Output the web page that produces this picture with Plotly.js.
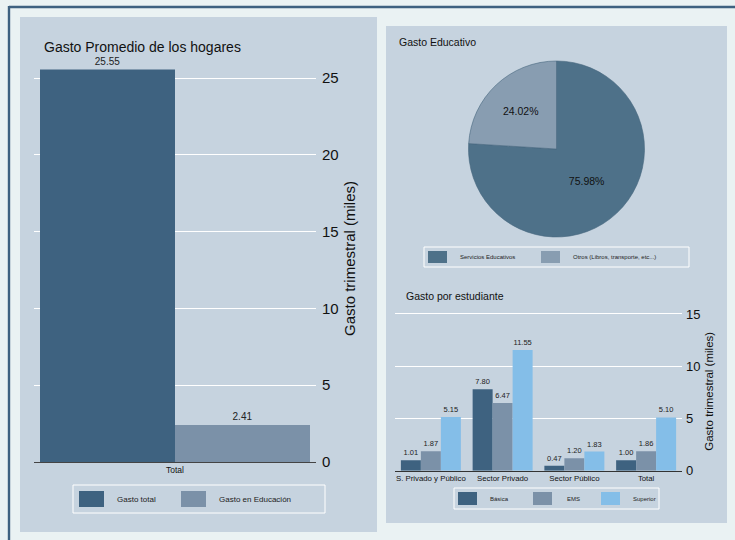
<!DOCTYPE html>
<html>
<head>
<meta charset="utf-8">
<script src="https://cdn.plot.ly/plotly-3.0.1.min.js"></script>
<style>html,body{margin:0;padding:0;background:#EAF2F3;}#chart{width:735px;height:540px;}</style>
</head>
<body>
<div id="chart"></div>
<script>
// ---- Data ----
const catHogar = ['Total'];
const seriesHogar = ['Gasto total', 'Gasto en Educación'];
const valHogar = [25.55, 2.41];

const pieLabels = ['Servicios Educativos', 'Otros (Libros, transporte, etc...)'];
const pieValues = [75.98, 24.02];

const catEst = ['S. Privado y Público', 'Sector Privado', 'Sector Público', 'Total'];
const seriesEst = ['Básica', 'EMS', 'Superior'];
const basica = [1.01, 7.80, 0.47, 1.00];
const ems = [1.87, 6.47, 1.20, 1.86];
const superior = [5.15, 11.55, 1.83, 5.10];

const titles = ['Gasto Promedio de los hogares', 'Gasto Educativo', 'Gasto por estudiante'];
const yTitle = 'Gasto trimestral (miles)';

// ---- Styles ----
const W = 735, H = 540;
const px = x => x / W;
const py = y => 1 - y / H;
const FONT = 'Liberation Sans, Arial, sans-serif';
const cDark = '#3E6280', cMid = '#7B91A8', cLight = '#84BEE8';
const pieDark = '#4E7189', pieLight = '#889DB1';
const panel = '#C6D3DF', outer = '#EAF2F3', border = '#3E6180';
const hogarColors = [cDark, cMid];
const estColors = [cDark, cMid, cLight];
const estVals = [basica, ems, superior];
const leftBarW = 135 / 282;

const traces = [];
seriesHogar.forEach((s, i) => {
  traces.push({
    type: 'bar', name: s, x: catHogar, y: [valHogar[i]],
    xaxis: 'x', yaxis: 'y',
    width: leftBarW, offset: (i - 1) * leftBarW,
    marker: {color: hogarColors[i], line: {width: 0}},
    texttemplate: '%{y:.2f}', textposition: 'outside',
    textfont: {size: 10, color: '#222', family: FONT},
    cliponaxis: false, showlegend: false, hoverinfo: 'skip'
  });
});
traces.push({
  type: 'pie', labels: pieLabels, values: pieValues, sort: false,
  direction: 'clockwise', rotation: 0,
  domain: {x: [px(468.5), px(644.5)], y: [py(237), py(61)]},
  marker: {colors: [pieDark, pieLight], line: {color: '#46667E', width: 0.6}},
  texttemplate: '%{percent:.2%}', textposition: 'inside', insidetextorientation: 'horizontal',
  textfont: {size: 10.5, color: '#111', family: FONT},
  showlegend: false, hoverinfo: 'skip'
});
seriesEst.forEach((s, i) => {
  traces.push({
    type: 'bar', name: s, x: catEst, y: estVals[i],
    xaxis: 'x2', yaxis: 'y2',
    marker: {color: estColors[i], line: {width: 0}},
    texttemplate: '%{y:.2f}', textposition: 'outside',
    textfont: {size: 7.5, color: '#222', family: FONT},
    cliponaxis: false, showlegend: false, hoverinfo: 'skip'
  });
});

const P = {xref: 'paper', yref: 'paper'};
const shapes = [
  // outer border
  Object.assign({type: 'line', x0: px(9), x1: px(740), y0: py(7), y1: py(7), line: {color: border, width: 2.4}}, P),
  Object.assign({type: 'line', x0: px(9), x1: px(9), y0: py(6), y1: py(545), line: {color: border, width: 2.4}}, P),
  // panels
  Object.assign({type: 'rect', x0: px(20), x1: px(377), y0: py(532), y1: py(17), fillcolor: panel, line: {width: 0}, layer: 'below'}, P),
  Object.assign({type: 'rect', x0: px(386), x1: px(727), y0: py(523), y1: py(26), fillcolor: panel, line: {width: 0}, layer: 'below'}, P)
];
const annotations = [];

function legend(box, names, colors, swX, swW, swY0, swY1, txX, size) {
  shapes.push(Object.assign({type: 'rect', x0: px(box[0]), x1: px(box[2]), y0: py(box[3]), y1: py(box[1]),
    line: {color: '#FFFFFF', width: 1}, fillcolor: 'rgba(0,0,0,0)'}, P));
  names.forEach((n, i) => {
    shapes.push(Object.assign({type: 'rect', x0: px(swX[i]), x1: px(swX[i] + swW), y0: py(swY1), y1: py(swY0),
      fillcolor: colors[i], line: {width: 0}}, P));
    annotations.push({text: n, x: px(txX[i]), y: py((swY0 + swY1) / 2), xref: 'paper', yref: 'paper',
      xanchor: 'left', yanchor: 'middle', showarrow: false, font: {size: size, color: '#222', family: FONT}});
  });
}
legend([73, 485, 325, 513], seriesHogar, hogarColors, [79, 181], 25, 491, 507, [115, 217], 8);
legend([424, 247, 689, 267], pieLabels, [pieDark, pieLight], [428, 541], 19, 251, 263, [458, 571], 6);
legend([454, 488, 659, 509], seriesEst, estColors, [458, 533, 601], 19, 492, 505, [488, 565, 631], 6);

const titlePos = [[42, 47, 14], [397, 42, 10.5], [404, 296, 10.5]];
titles.forEach((t, i) => {
  annotations.push({text: t, x: px(titlePos[i][0]), y: py(titlePos[i][1]), xref: 'paper', yref: 'paper',
    xanchor: 'left', yanchor: 'middle', showarrow: false, font: {size: titlePos[i][2], color: '#111', family: FONT}});
});

const layout = {
  width: W, height: H,
  margin: {l: 0, r: 0, t: 0, b: 0},
  paper_bgcolor: outer, plot_bgcolor: 'rgba(0,0,0,0)',
  font: {family: FONT, color: '#111'},
  barmode: 'group', bargap: 0.164, bargroupgap: 0,
  showlegend: false,
  xaxis: {domain: [px(34), px(316)], anchor: 'y', type: 'category', range: [-0.5, 0.5], showgrid: false,
    showline: true, linecolor: '#444', linewidth: 1.2, ticks: '', tickfont: {size: 8.5, color: '#111'},
    fixedrange: true},
  yaxis: {domain: [py(462), py(55)], anchor: 'x', side: 'right', range: [0, 26.5], dtick: 5,
    showgrid: true, gridcolor: '#FFFFFF', gridwidth: 1, zeroline: false, ticks: '', showline: false,
    tickfont: {size: 15, color: '#111'}, ticklabelstandoff: 5, automargin: false,
    title: {text: yTitle, font: {size: 15, color: '#111'}, standoff: 6}},
  xaxis2: {domain: [px(395), px(682)], anchor: 'y2', type: 'category', range: [-0.5, 3.5], showgrid: false,
    showline: true, linecolor: '#333', linewidth: 1.2, ticks: '', tickfont: {size: 7.8, color: '#111'}},
  yaxis2: {domain: [py(470.7), py(311.9)], anchor: 'x2', side: 'right', range: [0, 15.2], dtick: 5,
    showgrid: true, gridcolor: '#FFFFFF', gridwidth: 1, zeroline: false, ticks: '', showline: false,
    tickfont: {size: 13, color: '#111'}, ticklabelstandoff: 3, automargin: false,
    title: {text: yTitle, font: {size: 11.5, color: '#111'}, standoff: 5}},
  shapes: shapes,
  annotations: annotations
};

Plotly.newPlot('chart', traces, layout, {displayModeBar: false, staticPlot: true});
</script>
</body>
</html>
